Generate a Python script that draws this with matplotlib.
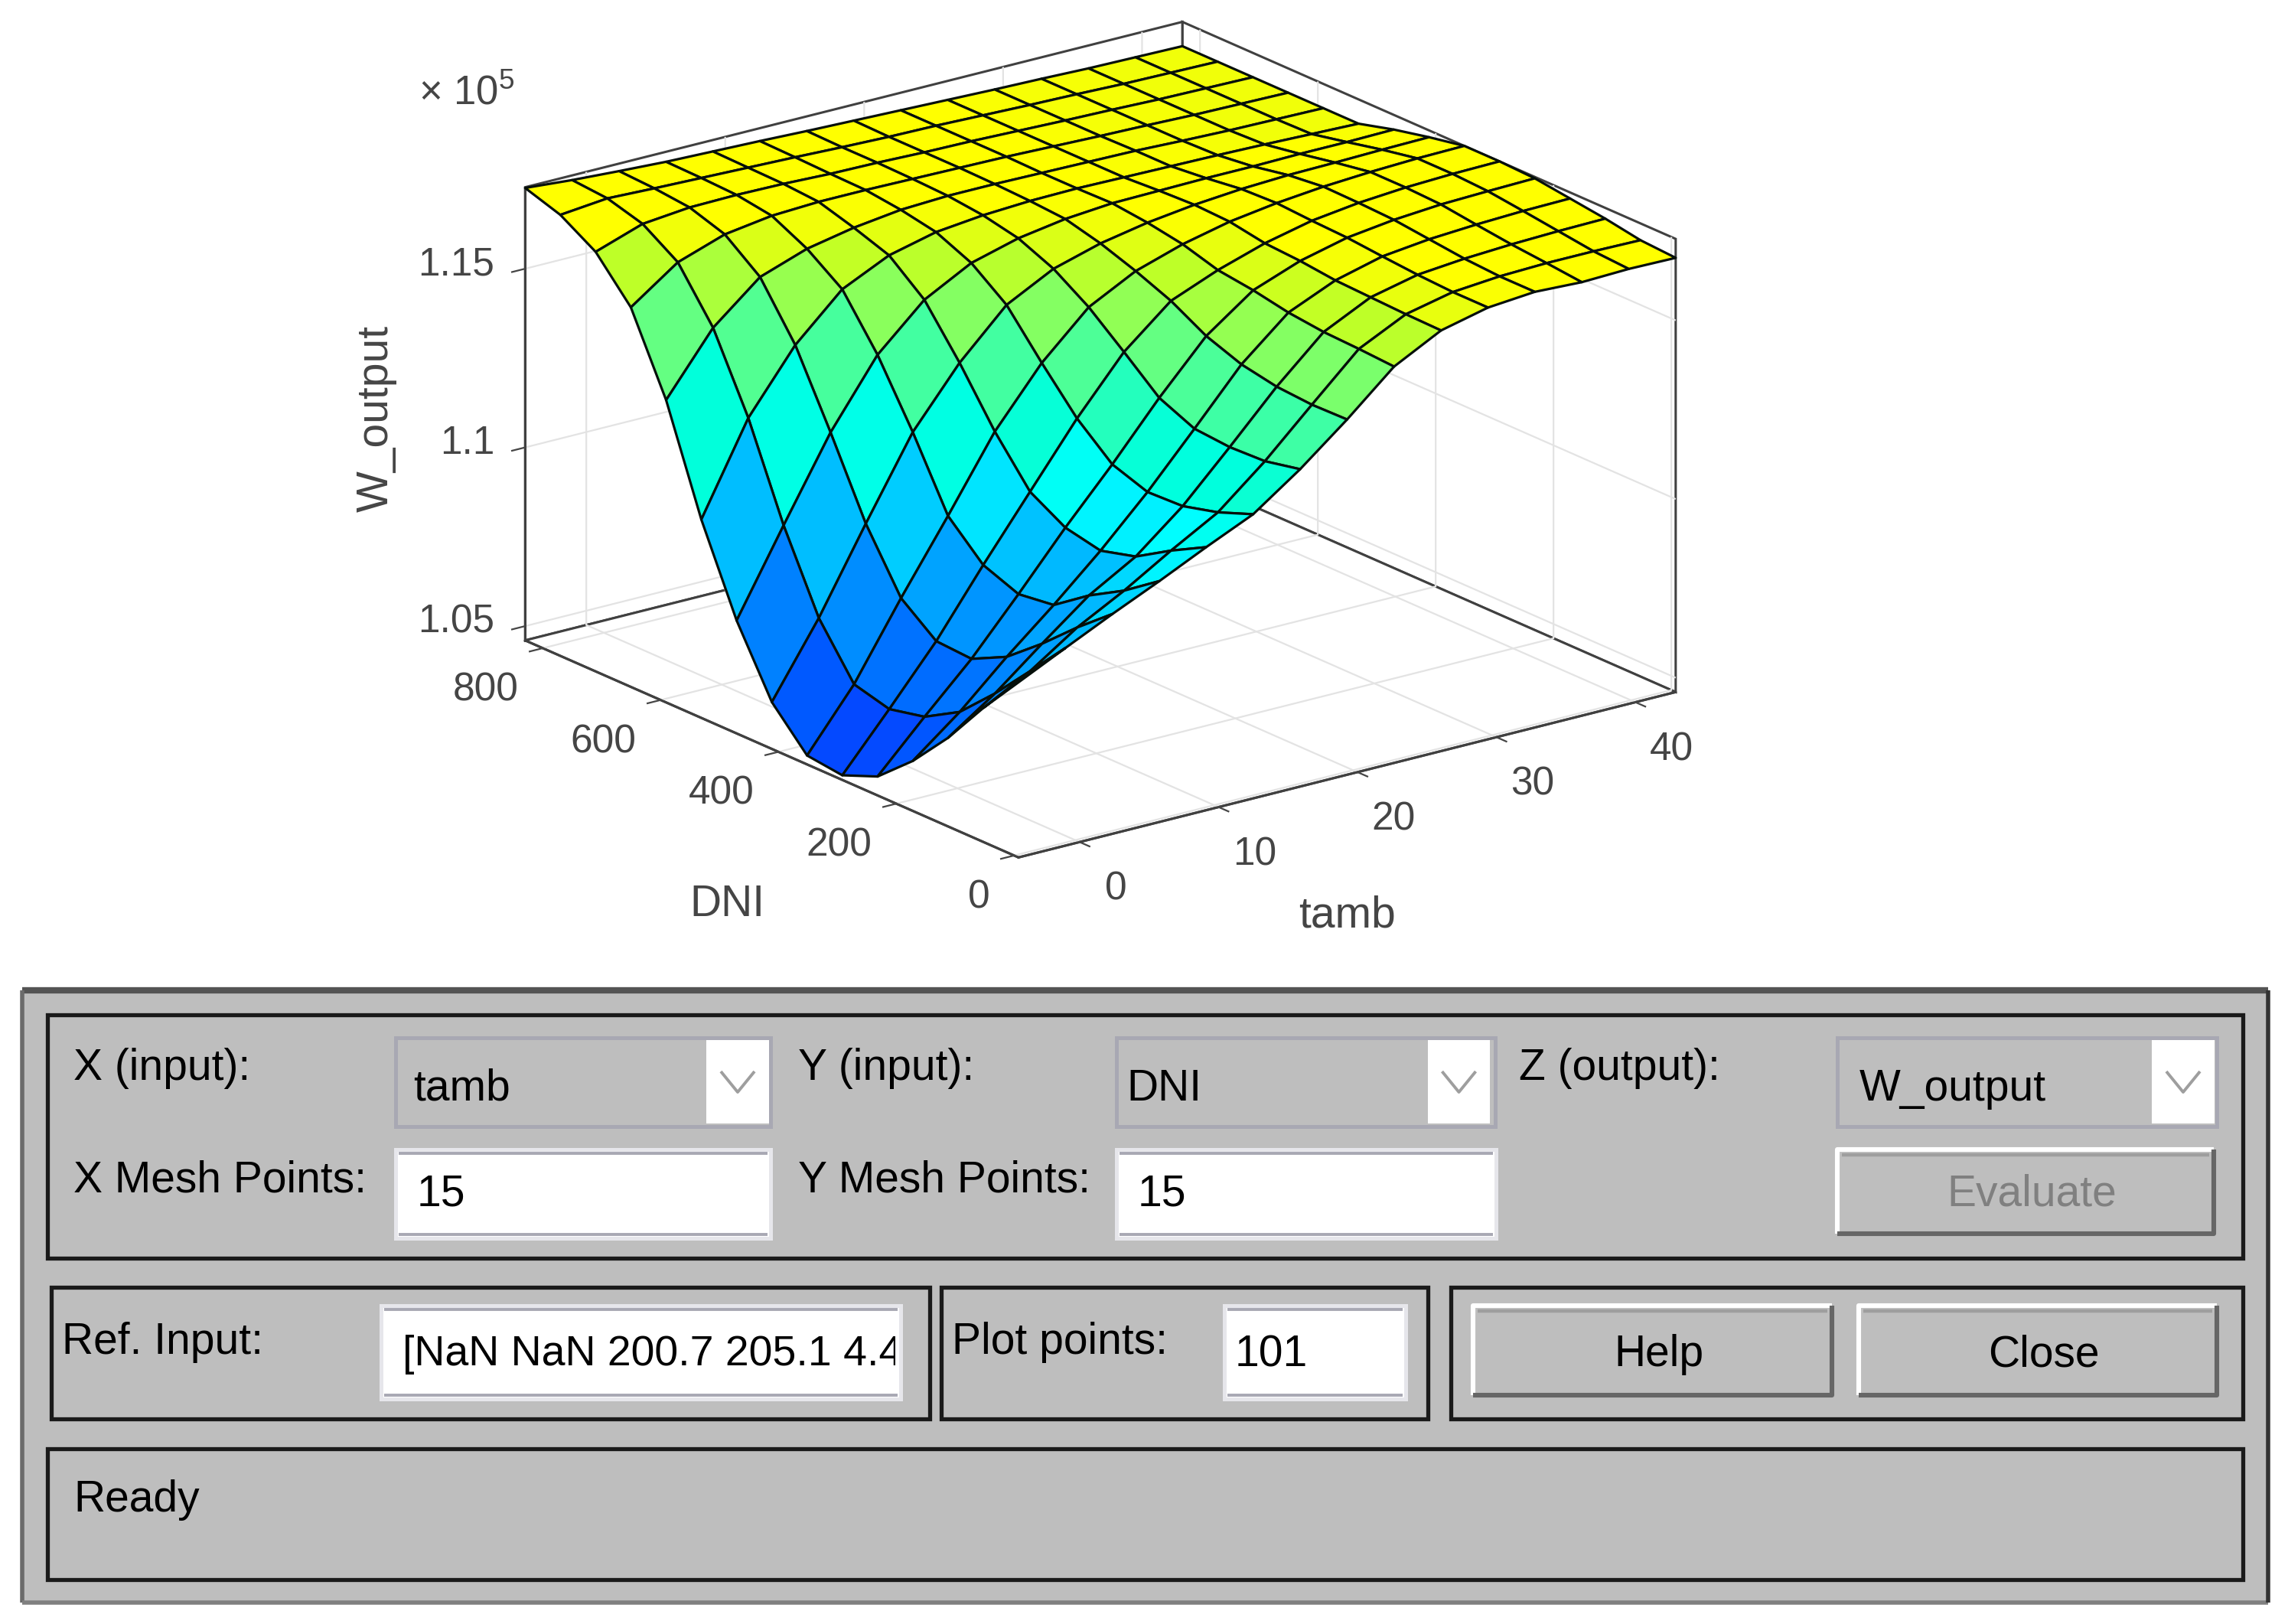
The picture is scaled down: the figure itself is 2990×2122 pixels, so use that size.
import numpy as np
from matplotlib import pyplot as plt
from matplotlib.colors import LinearSegmentedColormap, Normalize
from matplotlib.patches import Rectangle
from mpl_toolkits.mplot3d import proj3d

plt.rcParams['font.family'] = ['Liberation Sans', 'DejaVu Sans']
plt.rcParams['mathtext.fontset'] = 'custom'
plt.rcParams['mathtext.rm'] = 'Liberation Sans'

W, H = 2990, 2122

tamb = [-4.4, -1.02, 2.36, 5.74, 9.11, 12.49, 15.87, 19.25, 22.63, 26.01, 29.39, 32.76, 36.14, 39.52, 42.9]
dni = [830, 770.2, 710.3, 650.5, 590.7, 530.9, 471, 411.2, 351.4, 291.6, 231.7, 171.9, 112.1, 52.3, -7.4]

# W_output / 1e5, one row per DNI mesh point (highest DNI first)
w_output = [
    [1.1726, 1.1715, 1.1707, 1.1700, 1.1696, 1.1692, 1.1687, 1.1683, 1.1679, 1.1675, 1.1671, 1.1668, 1.1664, 1.1662, 1.1660],
    [1.1694, 1.1707, 1.1702, 1.1698, 1.1694, 1.1690, 1.1685, 1.1681, 1.1679, 1.1675, 1.1671, 1.1668, 1.1664, 1.1662, 1.1660],
    [1.1634, 1.1679, 1.1692, 1.1694, 1.1692, 1.1687, 1.1685, 1.1681, 1.1679, 1.1675, 1.1671, 1.1668, 1.1664, 1.1662, 1.1660],
    [1.1522, 1.1615, 1.1660, 1.1679, 1.1685, 1.1685, 1.1683, 1.1681, 1.1679, 1.1675, 1.1671, 1.1668, 1.1664, 1.1662, 1.1660],
    [1.1306, 1.1475, 1.1584, 1.1630, 1.1656, 1.1673, 1.1679, 1.1679, 1.1677, 1.1675, 1.1673, 1.1668, 1.1664, 1.1662, 1.1660],
    [1.1015, 1.1266, 1.1437, 1.1560, 1.1622, 1.1654, 1.1668, 1.1675, 1.1677, 1.1675, 1.1673, 1.1671, 1.1668, 1.1664, 1.1660],
    [1.0776, 1.1009, 1.1236, 1.1420, 1.1541, 1.1611, 1.1647, 1.1668, 1.1679, 1.1681, 1.1683, 1.1683, 1.1685, 1.1685, 1.1687],
    [1.0591, 1.0793, 1.1024, 1.1247, 1.1408, 1.1537, 1.1605, 1.1643, 1.1668, 1.1685, 1.1696, 1.1702, 1.1704, 1.1707, 1.1709],
    [1.0485, 1.0651, 1.0859, 1.1056, 1.1259, 1.1418, 1.1541, 1.1609, 1.1651, 1.1681, 1.1700, 1.1713, 1.1721, 1.1726, 1.1728],
    [1.0473, 1.0625, 1.0782, 1.0962, 1.1134, 1.1306, 1.1459, 1.1569, 1.1622, 1.1664, 1.1694, 1.1711, 1.1721, 1.1726, 1.1728],
    [1.0513, 1.0647, 1.0776, 1.0924, 1.1077, 1.1221, 1.1374, 1.1514, 1.1609, 1.1658, 1.1690, 1.1707, 1.1717, 1.1721, 1.1724],
    [1.0600, 1.0704, 1.0825, 1.0937, 1.1056, 1.1187, 1.1331, 1.1478, 1.1590, 1.1647, 1.1681, 1.1696, 1.1704, 1.1709, 1.1711],
    [1.0708, 1.0799, 1.0905, 1.1007, 1.1083, 1.1191, 1.1323, 1.1459, 1.1579, 1.1643, 1.1673, 1.1685, 1.1692, 1.1696, 1.1698],
    [1.0835, 1.0905, 1.0994, 1.1064, 1.1143, 1.1217, 1.1327, 1.1452, 1.1575, 1.1639, 1.1668, 1.1679, 1.1683, 1.1683, 1.1681],
    [1.0950, 1.1013, 1.1075, 1.1134, 1.1196, 1.1255, 1.1348, 1.1454, 1.1569, 1.1637, 1.1668, 1.1679, 1.1673, 1.1677, 1.1675],
]

tamb_ticks = [0, 10, 20, 30, 40]
dni_ticks = [0, 200, 400, 600, 800]
w_ticks = [1.05, 1.1, 1.15]
w_tick_labels = ['1.05', '1.1', '1.15']

# colours picked from cells of the surface
zlo, zhi = 1.046, 1.168
stops = [(1.046, (10/255, 50/255, 1)), (1.063, (0, 90/255, 1)), (1.0793, (0, 130/255, 1)),
         (1.1015, (0, 190/255, 1)), (1.116, (0, 1, 1)), (1.1266, (0, 1, 220/255)),
         (1.148, (100/255, 1, 130/255)), (1.1613, (190/255, 1, 40/255)), (1.168, (1, 1, 0))]
cmap = LinearSegmentedColormap.from_list('fis', [((z-zlo)/(zhi-zlo), c) for z, c in stops])

fig = plt.figure(figsize=(W/200, H/200), dpi=200, facecolor='white')

# ---- surface ----
S = 1594
left, top = 619.5, -201
ax = fig.add_axes([left/W, 1-(top+S)/H, S/W, S/H], projection='3d', proj_type='ortho')
ax.patch.set_alpha(0)
ax.view_init(elev=19.43, azim=-127.1)
ax.set_box_aspect((1077, 1069, 628))

X, Y = np.meshgrid(tamb, dni)
Z = np.array(w_output)
ax.plot_surface(X, Y, Z, rcount=15, ccount=15, cmap=cmap, norm=Normalize(zlo, zhi),
                edgecolor=(0.02, 0.06, 0.04), linewidth=1.15, shade=False, antialiased=True)

xlim, ylim, zlim = (-4.4, 42.9), (-7.4, 830), (1.046, 1.1728)
ax.set_xlim(*xlim, view_margin=0)
ax.set_ylim(*ylim, view_margin=0)
ax.set_zlim(*zlim, view_margin=0)
ax.set_xticks(tamb_ticks)
ax.set_yticks(dni_ticks)
ax.set_zticks(w_ticks)
ax.set_xticklabels([''] * len(tamb_ticks))
ax.set_yticklabels([''] * len(dni_ticks))
ax.set_zticklabels([''] * len(w_ticks))

txt_col = (0.27, 0.27, 0.27)
for a in (ax.xaxis, ax.yaxis, ax.zaxis):
    a.set_pane_color((1, 1, 1, 1))
    a.pane.set_closed(True)
    a.pane.set_edgecolor((0.25, 0.25, 0.25))
    a.pane.set_linewidth(1.1)
    a.line.set_color((0.25, 0.25, 0.25))
    a.line.set_linewidth(1.1)
    a._axinfo['grid']['color'] = (0.89, 0.89, 0.89)
    a._axinfo['grid']['linewidth'] = 0.8
    a._axinfo['tick']['inward_factor'] = 0.25
    a._axinfo['tick']['outward_factor'] = 0.0
ax.tick_params(axis='both', colors=txt_col, width=0.9)
ax.zaxis.set_ticks_position('upper')

# tick labels sit at the projected tick, moved by a pixel offset like the MATLAB ones
M = ax.get_proj()

def tick_label(x, y, z, s, dx, dy, ha):
    px, py, _ = proj3d.proj_transform(x, y, z, M)
    ax.annotate(s, xy=(px, py), xytext=(dx, -dy), textcoords='offset pixels',
                ha=ha, va='center', fontsize=18.5, color=txt_col, annotation_clip=False)

for t in tamb_ticks:
    tick_label(t, ylim[0], zlim[0], str(t), 47, 62, 'center')
for t in dni_ticks:
    tick_label(xlim[0], t, zlim[0], str(t), -32, 55, 'right')
for t, s in zip(w_ticks, w_tick_labels):
    tick_label(xlim[0], ylim[1], t, s, -40, -5, 'right')

# ---- dialog below the plot, drawn in pixel coordinates of the picture ----
ui = fig.add_axes([0, 0, 1, 1], zorder=3)
ui.set_xlim(0, W)
ui.set_ylim(H, 0)
ui.axis('off')

GREY = (0.745, 0.745, 0.745)
FRAME = (0.66, 0.66, 0.70)

ui.text(1760, 1196, 'tamb', color=txt_col, fontsize=20.5, ha='center', va='center')
ui.text(950, 1182, 'DNI', color=txt_col, fontsize=20.5, ha='center', va='center')
ui.text(492, 547, 'W_output', color=txt_col, fontsize=20.5, ha='center', va='center', rotation=90)
ui.text(547, 122, '× 10$^{5}$', color=txt_col, fontsize=19, va='center')

def rect(x0, y0, x1, y1, fc='none', ec='none', lw=0):
    ui.add_patch(Rectangle((x0, y0), x1-x0, y1-y0, facecolor=fc, edgecolor=ec, linewidth=lw))

def line(xs, ys, col, lw):
    ui.plot(xs, ys, color=col, linewidth=lw, solid_capstyle='butt')

def label(x, y, s, col='black', ha='left', size=20.5):
    return ui.text(x, y+4, s, color=col, ha=ha, va='center', fontsize=size)

def group(x0, y0, x1, y1):
    rect(x0, y0, x1, y1, ec=(0.1, 0.1, 0.1), lw=1.9)

def combo(x0, x1, ax0, ax1):
    rect(x0, 1356, x1, 1472, ec=FRAME, lw=1.8)
    rect(ax0, 1359, ax1, 1468, fc='white')
    cx = (ax0+ax1)/2
    line([cx-22, cx, cx+22], [1400, 1427, 1400], (0.62, 0.62, 0.62), 1.4)

def edit(x0, y0, x1, y1):
    rect(x0, y0, x1, y1, fc='white', ec=(0.9, 0.9, 0.92), lw=1.8)
    line([x0+4, x1-4], [y0+5, y0+5], FRAME, 1.4)
    line([x0+4, x1-4], [y1-5, y1-5], FRAME, 1.4)

def button(x0, y0, x1, y1):
    line([x0, x0, x1], [y1, y0, y0], 'white', 2.2)
    line([x0+6, x1-6], [y0+7, y0+7], (0.62, 0.62, 0.62), 1.6)
    line([x0, x1, x1], [y1, y1, y0], (0.4, 0.4, 0.4), 2.2)

# outer panel
rect(29, 1294, 2964, 2094, fc=GREY)
line([29, 2964], [1294, 1294], (0.33, 0.33, 0.33), 3)
line([29, 29], [1294, 2094], (0.42, 0.42, 0.42), 2)
line([29, 2964], [2094, 2094], (0.5, 0.5, 0.5), 2)
line([2964, 2964], [1294, 2094], (0.2, 0.2, 0.2), 2)

group(62, 1326, 2931, 1644)
group(67, 1682, 1215, 1854)
group(1230, 1682, 1866, 1854)
group(1896, 1682, 2931, 1854)
group(62, 1893, 2931, 2064)

combo(517, 1007, 923, 1005)
combo(1459, 1954, 1866, 1947)
combo(2401, 2897, 2812, 2894)
edit(517, 1502, 1007, 1618)
edit(1459, 1502, 1955, 1618)
edit(498, 1706, 1177, 1828)
edit(1600, 1706, 1837, 1828)
button(2401, 1502, 2893, 1612)
button(1925, 1706, 2394, 1823)
button(2429, 1706, 2897, 1823)

label(96, 1392, 'X (input):')
label(540, 1419, 'tamb')
label(1043, 1392, 'Y (input):')
label(1472, 1419, 'DNI')
label(1985, 1392, 'Z (output):')
label(2430, 1419, 'W_output')
label(96, 1538, 'X Mesh Points:')
label(545, 1557, '15')
label(1043, 1538, 'Y Mesh Points:')
label(1487, 1557, '15')
label(2655, 1557, 'Evaluate', col=(0.5, 0.5, 0.5), ha='center')
label(81, 1750, 'Ref. Input:')
ref = label(526, 1766, '[NaN NaN 200.7 205.1 4.4', size=20)
ref.set_clip_on(True)
ref.set_clip_path(Rectangle((498, 1706), 672, 122, transform=ui.transData))
label(1244, 1750, 'Plot points:')
label(1614, 1766, '101')
label(2168, 1766, 'Help', ha='center')
label(2671, 1766, 'Close', ha='center')
label(96, 1956, 'Ready')

fig.savefig('out.png', dpi=200)
